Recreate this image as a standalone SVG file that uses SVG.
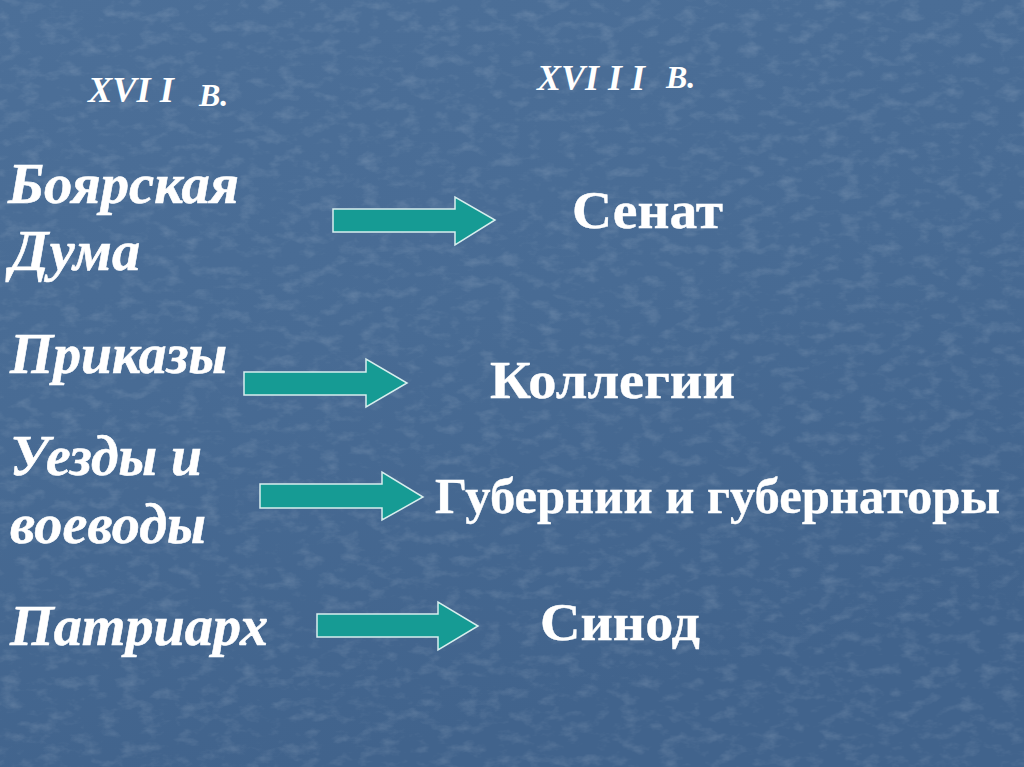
<svg xmlns="http://www.w3.org/2000/svg" width="1024" height="767" viewBox="0 0 1024 767">
<defs>
<linearGradient id="bg" x1="0" y1="0" x2="0.3" y2="1">
<stop offset="0" stop-color="#4c6f98"/>
<stop offset="0.5" stop-color="#486b94"/>
<stop offset="1" stop-color="#41638c"/>
</linearGradient>
<filter id="tex" x="0" y="0" width="100%" height="100%">
<feTurbulence type="fractalNoise" baseFrequency="0.05 0.09" numOctaves="4" seed="7" result="n"/>
<feColorMatrix in="n" type="matrix" values="0 0 0 0 1  0 0 0 0 1  0 0 0 0 1  0 0 0 1.6 -0.78"/>
</filter>
<style>
.l{font-family:"Liberation Serif","Times New Roman",serif;font-weight:bold;font-style:italic;fill:#ffffff;stroke:#ffffff;stroke-width:0.6}
.h{font-family:"Liberation Serif","Times New Roman",serif;font-weight:bold;font-style:italic;fill:#ffffff}
.r{font-family:"Liberation Serif","Times New Roman",serif;font-weight:bold;fill:#ffffff;stroke:#ffffff;stroke-width:0.4}
.arr{fill:#169b94;stroke:#d8eeee;stroke-width:1.5;stroke-linejoin:miter}
</style>
</defs>
<rect width="1024" height="767" fill="url(#bg)"/>
<rect width="1024" height="767" filter="url(#tex)" opacity="0.18"/>
<g id="headers">
<text class="h" x="88" y="102" font-size="35" textLength="86" lengthAdjust="spacingAndGlyphs">XVI I</text>
<text class="h" x="199" y="106" font-size="32">В.</text>
<text class="h" x="537" y="90" font-size="35" textLength="108" lengthAdjust="spacingAndGlyphs">XVI I I</text>
<text class="h" x="666" y="88" font-size="32">В.</text>
</g>
<g id="n-boyar"><text class="l" x="8" y="203" font-size="58" textLength="231" lengthAdjust="spacingAndGlyphs">Боярская</text><text class="l" x="10" y="270" font-size="58" textLength="130" lengthAdjust="spacingAndGlyphs">Дума</text></g>
<g id="n-prikazy"><text class="l" x="10" y="373" font-size="58" textLength="217" lengthAdjust="spacingAndGlyphs">Приказы</text></g>
<g id="n-uezdy"><text class="l" x="10" y="475" font-size="58" textLength="192" lengthAdjust="spacingAndGlyphs">Уезды и</text><text class="l" x="10" y="543" font-size="58" textLength="196" lengthAdjust="spacingAndGlyphs">воеводы</text></g>
<g id="n-patr"><text class="l" x="10" y="645" font-size="58" textLength="258" lengthAdjust="spacingAndGlyphs">Патриарх</text></g>
<g id="n-senat"><text class="r" x="572" y="228" font-size="53" textLength="151" lengthAdjust="spacingAndGlyphs">Сенат</text></g>
<g id="n-koll"><text class="r" x="490" y="398" font-size="53" textLength="245" lengthAdjust="spacingAndGlyphs">Коллегии</text></g>
<g id="n-gub"><text class="r" x="435" y="513" font-size="50" textLength="565" lengthAdjust="spacingAndGlyphs">Губернии и губернаторы</text></g>
<g id="n-sinod"><text class="r" x="540" y="640" font-size="53" textLength="160" lengthAdjust="spacingAndGlyphs">Синод</text></g>
<g id="connectors">
<path class="arr" d="M333 209 H455 V197 L495 220 L455 245 V232 H333 Z"/>
<path class="arr" d="M244 372 H366 V359 L407 383 L366 407 V395 H244 Z"/>
<path class="arr" d="M260 484 H382 V472 L423 497 L382 520 V508 H260 Z"/>
<path class="arr" d="M317 614 H438 V602 L478 626 L438 650 V637 H317 Z"/>
</g>
</svg>
